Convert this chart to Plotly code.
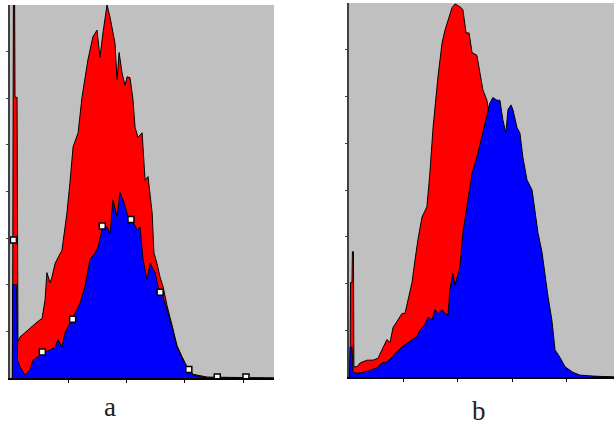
import plotly.graph_objects as go

# Fluorescence histograms, channel (0-1023, 256 channels per decade) vs. event count.

# Panel a
a_red_ch = [11, 15, 20, 22, 31, 33, 35, 44, 88, 119, 141, 154, 162, 176, 184, 198, 228, 250,
            263, 277, 299, 316, 342, 364, 382, 395, 408, 422, 426, 439, 461, 470, 479, 492,
            505, 514, 527, 540, 549, 562, 580, 593, 606, 624, 632, 645, 659, 672, 689, 711,
            733, 755, 777, 804, 865, 1159]
a_red_cnt = [0, 420, 420, 301, 301, 39, 39, 44, 54, 60, 64, 84, 113, 102, 108, 123, 137, 177,
             209, 248, 263, 301, 341, 366, 373, 344, 370, 398, 400, 387, 359, 320, 349, 327,
             314, 323, 322, 298, 269, 258, 263, 212, 216, 177, 134, 123, 108, 98, 78, 57,
             35, 23, 12, 4, 1, 0]

a_blue_ch = [10, 12, 29, 33, 44, 66, 88, 101, 123, 145, 176, 198, 211, 228, 241, 263, 277, 307,
             329, 351, 373, 386, 404, 426, 439, 452, 470, 483, 501, 518, 536, 558, 571, 584,
             602, 615, 637, 654, 672, 689, 711, 733, 755, 777, 804, 865, 1159]
a_blue_cnt = [0, 100, 100, 19, 12, 3, 9, 19, 23, 27, 30, 33, 41, 33, 48, 59, 65, 80,
              98, 127, 134, 140, 159, 162, 155, 191, 173, 199, 188, 173, 169, 159, 162, 127,
              105, 123, 113, 94, 87, 73, 55, 33, 21, 12, 3, 0, 0]

# Region markers on panel a
a_mark_ch = [15, 142, 275, 405, 531, 659, 785, 910, 1036]
a_mark_cnt = [148, 28, 63, 163, 170, 92, 9, 1, 1]

# Panel b
b_red_ch = [5, 7, 14, 16, 21, 23, 38, 52, 85, 113, 136, 155, 178, 193, 207, 230, 249, 263, 277,
            296, 310, 324, 343, 366, 380, 395, 418, 437, 451, 465, 484, 498, 521, 535, 550,
            564, 578, 601, 615, 629, 648, 662, 686, 733, 803, 874, 944, 1015, 1245]
b_red_cnt = [0, 101, 101, 134, 134, 11, 11, 15, 18, 18, 20, 29, 40, 37, 53, 61, 68, 68, 82,
             101, 125, 147, 171, 182, 218, 267, 321, 357, 371, 382, 395, 399, 396, 393, 368,
             368, 347, 344, 325, 307, 296, 278, 232, 168, 104, 50, 13, 1, 0]

b_blue_ch = [2, 5, 14, 19, 38, 66, 99, 132, 155, 178, 202, 225, 249, 272, 296, 319, 333, 357,
             371, 390, 404, 418, 437, 451, 465, 474, 488, 498, 521, 535, 554, 578, 601, 625,
             648, 662, 676, 695, 709, 723, 737, 747, 761, 770, 789, 803, 817, 836, 860, 874,
             888, 907, 921, 935, 953, 968, 991, 1015, 1052, 1085, 1146, 1245]
b_blue_cnt = [0, 32, 32, 5, 4, 5, 7, 10, 15, 16, 21, 27, 32, 36, 40, 43, 50, 56,
              64, 61, 72, 68, 72, 68, 66, 93, 111, 98, 118, 154, 182, 218, 235, 257,
              278, 293, 299, 296, 296, 275, 261, 286, 291, 286, 267, 261, 235, 211, 200, 175,
              154, 133, 107, 86, 61, 29, 21, 11, 5, 2, 1, 0]

decade_ticks = [256, 512, 768, 1024]
count_ticks = [50, 100, 150, 200, 250, 300, 350]

RED = "#ff0000"
BLUE = "#0000ff"
BG = "#c0c0c0"

fig = go.Figure()


def hist_trace(ch, cnt, color, xa, ya):
    return go.Scatter(x=ch, y=cnt, mode="lines", fill="tozeroy", fillcolor=color,
                      line=dict(color="black", width=1), xaxis=xa, yaxis=ya,
                      hoverinfo="skip", showlegend=False)


fig.add_trace(hist_trace(a_red_ch, a_red_cnt, RED, "x", "y"))
fig.add_trace(hist_trace(a_blue_ch, a_blue_cnt, BLUE, "x", "y"))
fig.add_trace(go.Scatter(x=a_mark_ch, y=a_mark_cnt, mode="markers", xaxis="x", yaxis="y",
                         marker=dict(symbol="square", size=6, color="white",
                                     line=dict(color="black", width=1.5)),
                         hoverinfo="skip", showlegend=False))
fig.add_trace(hist_trace(b_red_ch, b_red_cnt, RED, "x2", "y2"))
fig.add_trace(hist_trace(b_blue_ch, b_blue_cnt, BLUE, "x2", "y2"))

W, H = 614, 427

xcommon = dict(showgrid=False, zeroline=False, showticklabels=False, showline=True,
               linecolor="black", linewidth=2, ticks="outside", ticklen=3, tickwidth=1,
               tickcolor="black", tickvals=decade_ticks)
ycommon = dict(showgrid=False, zeroline=False, showticklabels=False, showline=True,
               linecolor="#404040", linewidth=2, ticks="outside", ticklen=2, tickwidth=1,
               tickcolor="#404040", tickvals=count_ticks, range=[0, 400])

fig.update_layout(
    width=W, height=H,
    margin=dict(l=0, r=0, t=0, b=0),
    paper_bgcolor="white",
    plot_bgcolor=BG,
    showlegend=False,
    xaxis=dict(domain=[10 / W, 274 / W], range=[0, 1159], anchor="y", **xcommon),
    yaxis=dict(domain=[1 - 378 / H, 1 - 5 / H], anchor="x", **ycommon),
    xaxis2=dict(domain=[349 / W, 1.0], range=[0, 1245], anchor="y2", **xcommon),
    yaxis2=dict(domain=[1 - 377 / H, 1 - 3 / H], anchor="x2", **ycommon),
    annotations=[
        dict(text="a", xref="paper", yref="paper", x=110 / W, y=1 - 390 / H,
             xanchor="center", yanchor="top", showarrow=False,
             font=dict(family="Liberation Serif", size=27, color="#222222")),
        dict(text="b", xref="paper", yref="paper", x=479 / W, y=1 - 394 / H,
             xanchor="center", yanchor="top", showarrow=False,
             font=dict(family="Liberation Serif", size=27, color="#222222")),
    ],
)

fig.write_html("out.html")
